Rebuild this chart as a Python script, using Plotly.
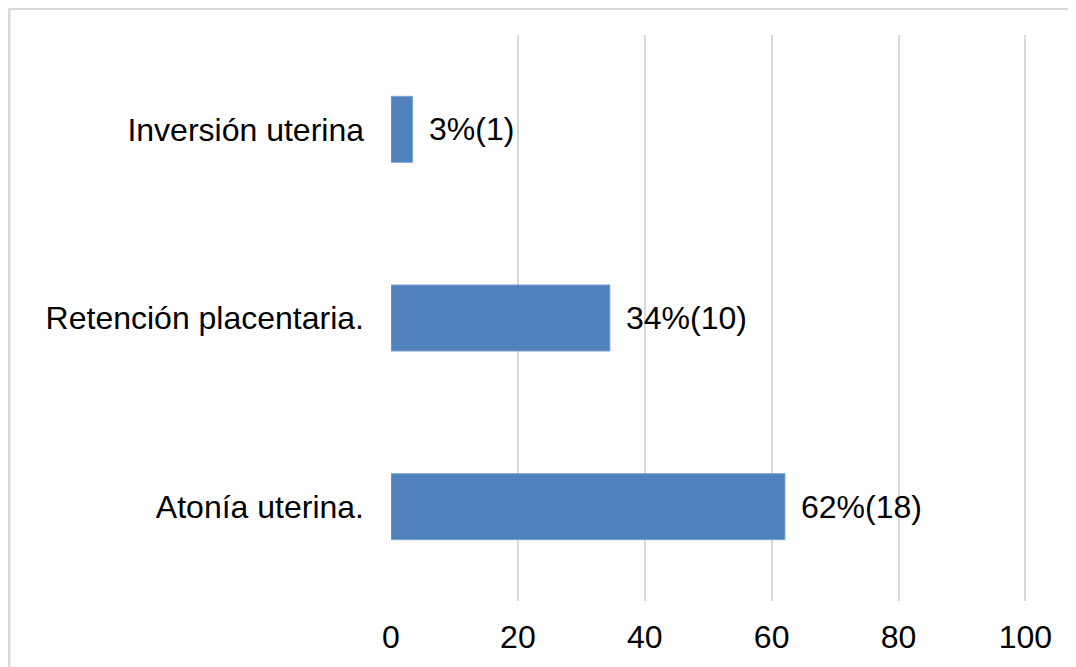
import plotly.graph_objects as go

categories = ["Atonía uterina.", "Retención placentaria.", "Inversión uterina"]
values = [62.1, 34.5, 3.4]
labels = ["62%(18)", "34%(10)", "3%(1)"]
x_ticks = [0, 20, 40, 60, 80, 100]

# page body has an 8px margin, so the figure is sized to fit the window
OFF = 8
W, H = 1076 - OFF, 667 - OFF
ML, MR, MT, MB = 391 - OFF, 49, 35 - OFF, 58
FONT = "Liberation Sans, Arial, sans-serif"
FS = 32
pw = W - ML - MR
ph = H - MT - MB

fig = go.Figure()
fig.add_trace(go.Bar(
    y=categories, x=values, orientation="h",
    marker=dict(color="#4f81bd", line=dict(color="#7fa3d1", width=1)),
    width=0.35, hoverinfo="skip",
))

for c, v, t in zip(categories, values, labels):
    fig.add_annotation(x=v, y=c, text=t, showarrow=False, xanchor="left",
                       xshift=14, font=dict(size=FS, color="#000000", family=FONT))

# outer chart border (left and top visible)
bx0 = (1 - ML) / pw
by_top = (ph + MT - 0) / ph
fig.add_shape(type="line", xref="paper", yref="paper", x0=bx0, x1=bx0,
              y0=-0.2, y1=by_top, line=dict(color="#d9d9d9", width=3))
fig.add_shape(type="line", xref="paper", yref="paper", x0=bx0, x1=1.2,
              y0=by_top, y1=by_top, line=dict(color="#d9d9d9", width=3))

fig.update_layout(
    width=W, height=H,
    margin=dict(l=ML, r=MR, t=MT, b=MB),
    paper_bgcolor="white", plot_bgcolor="white",
    showlegend=False,
    font=dict(family=FONT, size=FS, color="#000000"),
    xaxis=dict(range=[0, 100.25], tickvals=x_ticks, showgrid=True,
               gridcolor="#d9d9d9", gridwidth=2, zeroline=False,
               showline=False, ticks="", ticklabelstandoff=14,
               tickfont=dict(size=FS, color="#000000", family=FONT)),
    yaxis=dict(categoryorder="array", categoryarray=categories,
               showgrid=False, zeroline=False, showline=False, ticks="",
               ticklabelstandoff=26,
               tickfont=dict(size=FS, color="#000000", family=FONT)),
    bargap=0.65,
)

fig.write_html("out.html")
